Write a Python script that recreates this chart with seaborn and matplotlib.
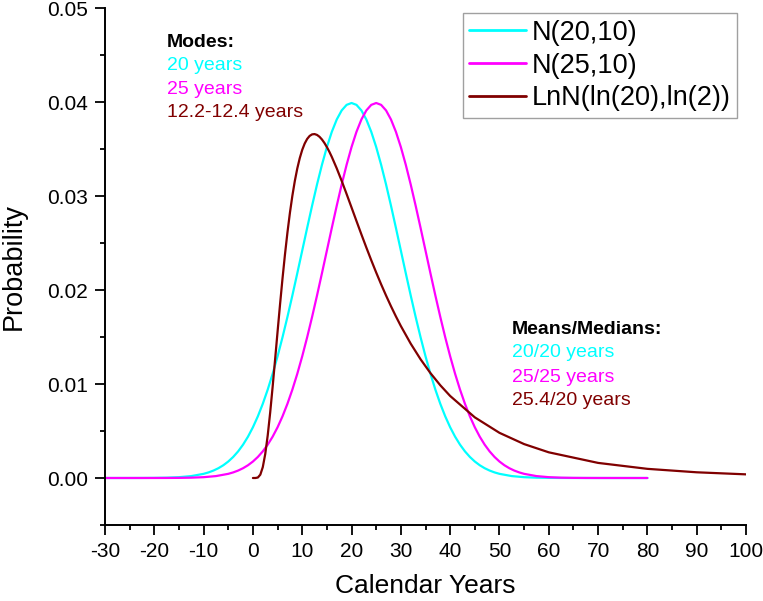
import matplotlib
matplotlib.use("Agg")
import matplotlib.pyplot as plt
import seaborn as sns
import pandas as pd
from matplotlib.ticker import MultipleLocator, FormatStrFormatter

# ---- data ----
x_n20 = ([-30, -27.5, -25, -22.5, -20, -17.5, -15, -12.5]
         + list(range(-10, 51))
         + [52.5, 55, 57.5, 60, 62.5, 65, 67.5, 70, 72.5, 75, 77.5, 80])
n20 = [0.0000001, 0.0000005, 0.0000016, 0.0000048, 0.0000134, 0.0000353, 0.0000873, 0.000203,
       0.000443, 0.000595, 0.000792, 0.001042, 0.001358, 0.001753, 0.002240, 0.002833,
       0.003548, 0.004398, 0.005399, 0.006562, 0.007895, 0.009405, 0.011092, 0.012952,
       0.014973, 0.017137, 0.019419, 0.021785, 0.024197, 0.026609, 0.028969, 0.031225,
       0.033322, 0.035207, 0.036827, 0.038139, 0.039104, 0.039695, 0.039894,
       0.039695, 0.039104, 0.038139, 0.036827, 0.035207, 0.033322, 0.031225, 0.028969,
       0.026609, 0.024197, 0.021785, 0.019419, 0.017137, 0.014973, 0.012952, 0.011092,
       0.009405, 0.007895, 0.006562, 0.005399, 0.004398, 0.003548, 0.002833, 0.002240,
       0.001753, 0.001358, 0.001042, 0.000792, 0.000595, 0.000443,
       0.000203, 0.0000873, 0.0000353, 0.0000134, 0.0000048, 0.0000016, 0.0000005,
       0.0000001, 0.0, 0.0, 0.0, 0.0]

x_n25 = ([-30, -27.5, -25, -22.5, -20, -17.5, -15, -12.5, -10, -7.5]
         + list(range(-5, 56))
         + [57.5, 60, 62.5, 65, 67.5, 70, 72.5, 75, 77.5, 80])
n25 = [0.0, 0.0, 0.0000001, 0.0000005, 0.0000016, 0.0000048, 0.0000134, 0.0000353,
       0.0000873, 0.000203,
       0.000443, 0.000595, 0.000792, 0.001042, 0.001358, 0.001753, 0.002240, 0.002833,
       0.003548, 0.004398, 0.005399, 0.006562, 0.007895, 0.009405, 0.011092, 0.012952,
       0.014973, 0.017137, 0.019419, 0.021785, 0.024197, 0.026609, 0.028969, 0.031225,
       0.033322, 0.035207, 0.036827, 0.038139, 0.039104, 0.039695, 0.039894,
       0.039695, 0.039104, 0.038139, 0.036827, 0.035207, 0.033322, 0.031225, 0.028969,
       0.026609, 0.024197, 0.021785, 0.019419, 0.017137, 0.014973, 0.012952, 0.011092,
       0.009405, 0.007895, 0.006562, 0.005399, 0.004398, 0.003548, 0.002833, 0.002240,
       0.001753, 0.001358, 0.001042, 0.000792, 0.000595, 0.000443,
       0.000203, 0.0000873, 0.0000353, 0.0000134, 0.0000048, 0.0000016, 0.0000005,
       0.0000001, 0.0, 0.0]

x_ln = [0, 0.5, 1, 1.5, 2, 2.5, 3, 3.5, 4, 4.5, 5, 5.5, 6, 6.5, 7, 7.5, 8, 8.5, 9, 9.5,
        10, 10.5, 11, 11.5, 12, 12.5, 13, 13.5, 14, 14.5, 15, 15.5, 16, 17, 18, 19, 20,
        21, 22, 23, 24, 25, 26, 27, 28, 29, 30, 32, 34, 36, 38, 40, 45, 50, 55, 60,
        70, 80, 90, 100]
lnn = [0.0, 0.0000008, 0.0000506, 0.000356, 0.001155, 0.002558, 0.004533, 0.006965,
       0.009710, 0.012623, 0.015579, 0.018469, 0.021221, 0.023781, 0.026114, 0.028198,
       0.030028, 0.031605, 0.032936, 0.034031, 0.034910, 0.035583, 0.036071, 0.036390,
       0.036556, 0.036588, 0.036498, 0.036302, 0.036013, 0.035644, 0.035204, 0.034705,
       0.034156, 0.032938, 0.031608, 0.030210, 0.028778, 0.027340, 0.025915, 0.024521,
       0.023166, 0.021859, 0.020606, 0.019410, 0.018271, 0.017190, 0.016168, 0.014292,
       0.012629, 0.011160, 0.009865, 0.008727, 0.006451, 0.004805, 0.003607, 0.002732,
       0.001606, 0.000974, 0.000607, 0.000388]

series_names = ["N(20,10)", "N(25,10)", "LnN(ln(20),ln(2))"]
colors = ["#00FFFF", "#FF00FF", "#800000"]

mode_labels = ["20 years", "25 years", "12.2-12.4 years"]
mean_labels = ["20/20 years", "25/25 years", "25.4/20 years"]

df = pd.concat([
    pd.DataFrame({"x": x_n20, "y": n20, "s": series_names[0]}),
    pd.DataFrame({"x": x_n25, "y": n25, "s": series_names[1]}),
    pd.DataFrame({"x": x_ln, "y": lnn, "s": series_names[2]}),
], ignore_index=True)

sns.set_style("ticks")
plt.rcParams["font.family"] = ["Liberation Sans", "DejaVu Sans"]
plt.rcParams["axes.unicode_minus"] = False
plt.rcParams["text.color"] = "black"
plt.rcParams["axes.labelcolor"] = "black"

fig = plt.figure(figsize=(7.63, 6.01), dpi=100)
ax = fig.add_axes([105 / 763, 1 - 525 / 601, (746 - 105) / 763, (525 - 8) / 601])

sns.lineplot(data=df, x="x", y="y", hue="s", palette=dict(zip(series_names, colors)),
             hue_order=series_names, linewidth=1.6, ax=ax, sort=False,
             estimator=None, legend=True)

ax.set_xlim(-30, 100)
ax.set_ylim(-0.005, 0.05)
ax.xaxis.set_major_locator(MultipleLocator(10))
ax.xaxis.set_minor_locator(MultipleLocator(5))
ax.yaxis.set_major_locator(MultipleLocator(0.01))
ax.yaxis.set_minor_locator(MultipleLocator(0.005))
ax.yaxis.set_major_formatter(FormatStrFormatter("%.2f"))
ax.tick_params(which="major", length=7, width=1.3, labelsize=15, color="black",
               labelcolor="black", direction="out", pad=5)
ax.tick_params(which="minor", length=3.8, width=1.3, color="black", direction="out")
for side in ["top", "right"]:
    ax.spines[side].set_visible(False)
for side in ["left", "bottom"]:
    ax.spines[side].set_color("black")
    ax.spines[side].set_linewidth(1.4)

ax.set_xlabel("Calendar Years", fontsize=19, color="black")
ax.set_ylabel("Probability", fontsize=19.5, va="center", color="black")
ax.xaxis.set_label_coords(0.5, -0.094)
ax.yaxis.set_label_coords(-0.142, 0.5)

handles, labels = ax.get_legend_handles_labels()
leg = ax.legend(handles, labels, loc="upper right", bbox_to_anchor=(0.9865, 0.99),
                borderaxespad=0, fontsize=19.5, frameon=True, fancybox=False,
                handlelength=2.1, handletextpad=0.2, labelspacing=0.25,
                borderpad=0.25)
leg.get_frame().set_edgecolor("#888888")
leg.get_frame().set_linewidth(1.0)
for line in leg.get_lines():
    line.set_linewidth(2.0)
for t in leg.get_texts():
    t.set_color("black")

ax.text(-17.5, 0.04638, "Modes:", fontsize=14, fontweight="bold", color="black", va="center")
mode_y = [0.04383, 0.04138, 0.03883]
for lab, c, yv in zip(mode_labels, colors, mode_y):
    ax.text(-17.5, yv, lab, fontsize=14, color=c, va="center")

ax.text(52.5, 0.01585, "Means/Medians:", fontsize=14, fontweight="bold", color="black", va="center")
mean_y = [0.01330, 0.01074, 0.0082]
for lab, c, yv in zip(mean_labels, colors, mean_y):
    ax.text(52.5, yv, lab, fontsize=14, color=c, va="center")

fig.savefig("out.png", dpi=100)
